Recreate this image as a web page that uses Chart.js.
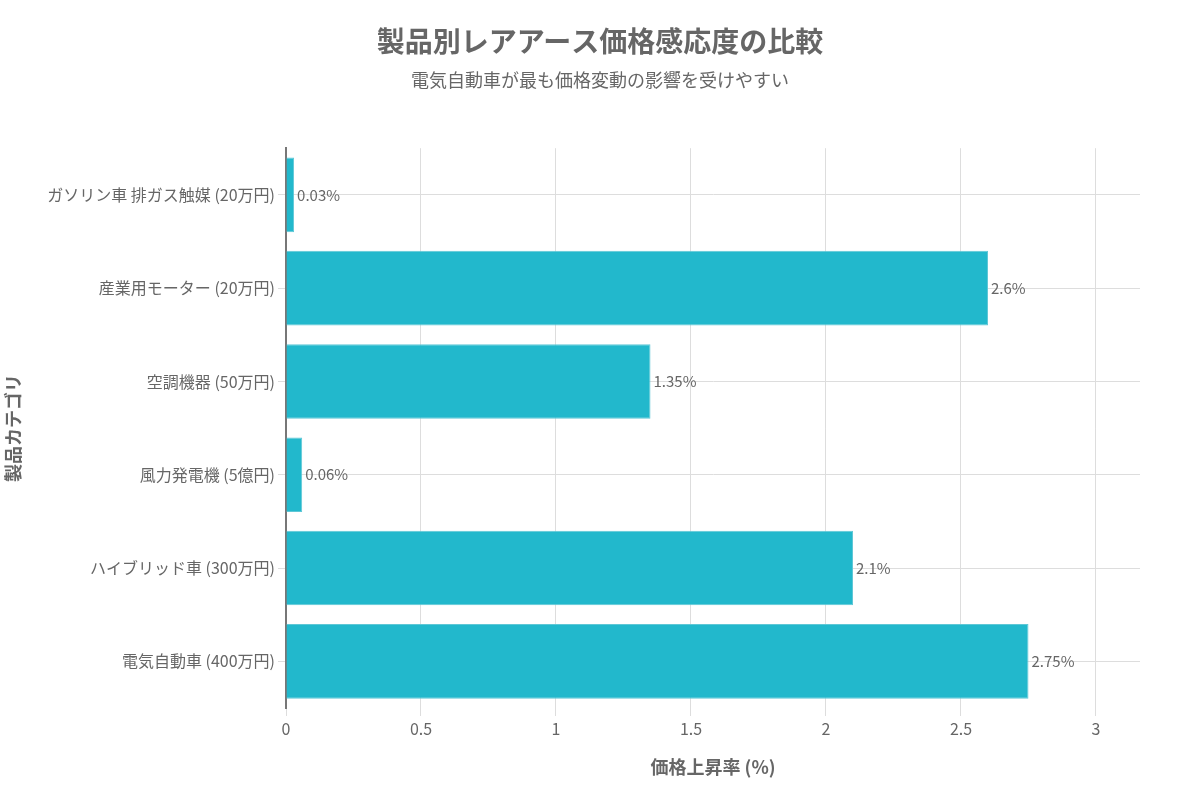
<!DOCTYPE html>
<html>
<head>
<meta charset="utf-8">
<script src="https://cdn.jsdelivr.net/npm/chart.js@4"></script>
<style>
  html, body { margin: 0; padding: 0; background: #fff; }
  #wrap { width: 1200px; height: 800px; }
</style>
</head>
<body>
<div id="wrap"><canvas id="priceChart"></canvas></div>
<script>
var categories = [
  'ガソリン車 排ガス触媒 (20万円)',
  '産業用モーター (20万円)',
  '空調機器 (50万円)',
  '風力発電機 (5億円)',
  'ハイブリッド車 (300万円)',
  '電気自動車 (400万円)'
];
var priceRise = [0.03, 2.6, 1.35, 0.06, 2.1, 2.75];

var FONT = '"Noto Sans CJK JP", "Noto Sans", sans-serif';
var GREY = '#666';

// value labels at the end of each bar
var barLabels = {
  id: 'barLabels',
  afterDatasetsDraw: function(chart) {
    var ctx = chart.ctx;
    var meta = chart.getDatasetMeta(0);
    ctx.save();
    ctx.font = '15px ' + FONT;
    ctx.fillStyle = GREY;
    ctx.textAlign = 'left';
    ctx.textBaseline = 'middle';
    meta.data.forEach(function(bar, i) {
      ctx.fillText(priceRise[i] + '%', bar.x + 3, bar.y);
    });
    ctx.restore();
  }
};

new Chart(document.getElementById('priceChart'), {
  type: 'bar',
  data: {
    labels: categories,
    datasets: [{
      data: priceRise,
      backgroundColor: '#22b8cc',
      borderColor: '#5ec7d6',
      borderWidth: 1,
      categoryPercentage: 1.0,
      barPercentage: 0.8
    }]
  },
  options: {
    indexAxis: 'y',
    responsive: true,
    maintainAspectRatio: false,
    animation: false,
    layout: { padding: { top: 25, right: 0, bottom: 0, left: 0 } },
    plugins: {
      legend: { display: false },
      tooltip: { enabled: false },
      title: {
        display: true,
        text: '製品別レアアース価格感応度の比較',
        color: GREY,
        font: { family: FONT, size: 28, weight: 'bold' },
        padding: { top: 0, bottom: 11 }
      },
      subtitle: {
        display: true,
        text: '電気自動車が最も価格変動の影響を受けやすい',
        color: GREY,
        font: { family: FONT, size: 18 },
        padding: { top: 0, bottom: 57 }
      }
    },
    scales: {
      x: {
        min: 0,
        max: 3.163,
        afterFit: function(s) { s.height = 92; },
        ticks: {
          stepSize: 0.5,
          includeBounds: false,
          color: GREY,
          font: { family: FONT, size: 16 },
          callback: function(v) { return String(v); }
        },
        grid: { color: '#dddddd', tickLength: 8 },
        border: { display: false },
        title: {
          display: true,
          text: '価格上昇率 (%)',
          color: GREY,
          font: { family: FONT, size: 18, weight: 'bold' },
          padding: { top: 0, bottom: 22 }
        }
      },
      y: {
        afterFit: function(s) { s.width = 286; },
        ticks: {
          color: GREY,
          font: { family: FONT, size: 16 }
        },
        grid: { color: '#dddddd', offset: false, tickLength: 8 },
        border: { display: true, color: '#777', width: 2 },
        title: {
          display: true,
          text: '製品カテゴリ',
          color: GREY,
          font: { family: FONT, size: 18, weight: 'bold' },
          padding: { top: 2, bottom: 0 }
        }
      },
      // empty right-hand gutter so the titles stay centred on the page
      yRight: {
        type: 'category',
        position: 'right',
        afterFit: function(s) { s.width = 60; },
        ticks: { display: false },
        grid: { display: false },
        border: { display: false }
      }
    }
  },
  plugins: [barLabels]
});
</script>
</body>
</html>
